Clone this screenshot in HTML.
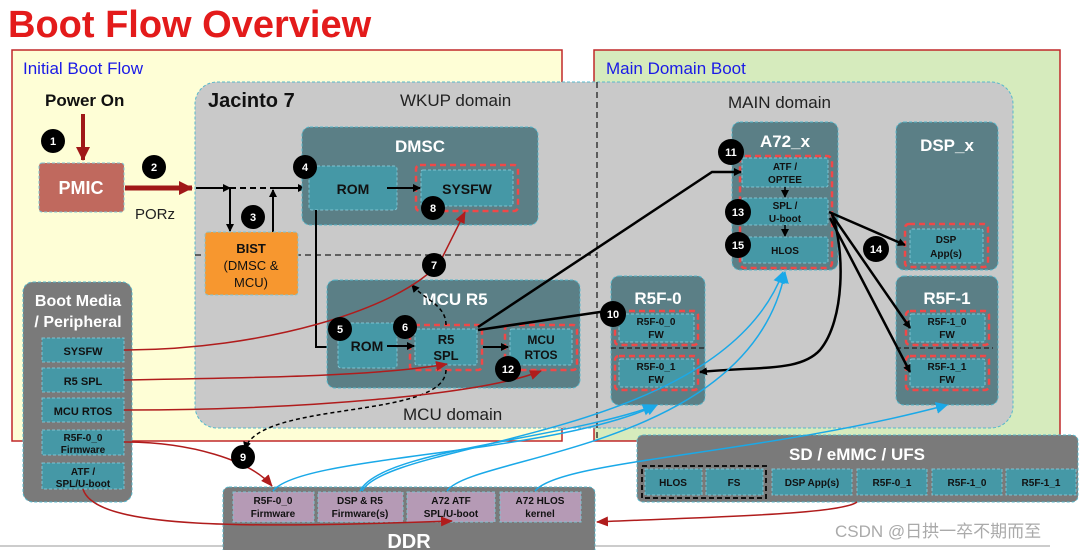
<!DOCTYPE html>
<html><head><meta charset="utf-8"><style>
html,body{margin:0;padding:0;background:#fff;}
svg{display:block;font-family:"Liberation Sans",Arial,sans-serif;}
.b{font-weight:bold;}
</style></head><body>
<svg width="1080" height="550" viewBox="0 0 1080 550" xmlns="http://www.w3.org/2000/svg">
<defs>
<marker id="ak" markerWidth="8" markerHeight="8" refX="7" refY="4" orient="auto" markerUnits="userSpaceOnUse"><path d="M0,0 L8,4 L0,8 z" fill="#000"/></marker>
<marker id="ar" markerWidth="12" markerHeight="10" refX="11" refY="5" orient="auto" markerUnits="userSpaceOnUse"><path d="M0,0 L12,5 L0,10 z" fill="#b01c1c"/></marker>
<marker id="arb" markerWidth="14" markerHeight="14" refX="13" refY="7" orient="auto" markerUnits="userSpaceOnUse"><path d="M0,0 L14,7 L0,14 z" fill="#a01818"/></marker>
<marker id="ab" markerWidth="12" markerHeight="12" refX="11" refY="6" orient="auto" markerUnits="userSpaceOnUse"><path d="M0,0 L12,6 L0,12 z" fill="#1aa9e8"/></marker>
</defs>

<text x="8" y="37" font-size="38" class="b" fill="#e31b1b">Boot Flow Overview</text>

<!-- outer regions -->
<rect x="12" y="50" width="550" height="391" fill="#fefed6" stroke="#c0282a" stroke-width="1.5"/>
<rect x="594" y="50" width="466" height="391" fill="#d6ebbd" stroke="#c0282a" stroke-width="1.5"/>
<text x="23" y="74" font-size="17" fill="#1a1ae6">Initial Boot Flow</text>
<text x="606" y="74" font-size="17" fill="#1a1ae6">Main Domain Boot</text>

<!-- Jacinto -->
<rect x="195" y="82" width="818" height="346" rx="22" fill="#c9c9c9" stroke="#56b8cc" stroke-width="1" stroke-dasharray="3,2"/>
<line x1="597" y1="82" x2="597" y2="442" stroke="#222" stroke-width="1.3" stroke-dasharray="6,4"/>
<line x1="195" y1="255" x2="597" y2="255" stroke="#222" stroke-width="1.3" stroke-dasharray="6,4"/>
<text x="208" y="107" font-size="20" class="b" fill="#111">Jacinto 7</text>
<text x="400" y="106" font-size="17" fill="#222">WKUP domain</text>
<text x="728" y="108" font-size="17" fill="#222">MAIN domain</text>
<text x="403" y="420" font-size="17" fill="#222">MCU domain</text>

<!-- Power on / PMIC -->
<text x="45" y="106" font-size="17" class="b" fill="#111">Power On</text>
<line x1="83" y1="114" x2="83" y2="160" stroke="#a01818" stroke-width="4" marker-end="url(#arb)"/>
<rect x="39" y="163" width="85" height="49" rx="3" fill="#c0695e" stroke="#7fc3d2" stroke-dasharray="3,2"/>
<text x="81" y="194" font-size="18" class="b" fill="#fff" text-anchor="middle">PMIC</text>
<line x1="125" y1="188" x2="192" y2="188" stroke="#a01818" stroke-width="5" marker-end="url(#arb)"/>
<text x="135" y="219" font-size="15" fill="#222">PORz</text>

<!-- PORz path -->
<line x1="196" y1="188" x2="230" y2="188" stroke="#000" stroke-width="2" marker-end="url(#ak)"/>
<line x1="230" y1="188" x2="270" y2="188" stroke="#000" stroke-width="2" stroke-dasharray="6,4"/>
<line x1="270" y1="188" x2="305" y2="188" stroke="#000" stroke-width="2" marker-end="url(#ak)"/>
<line x1="230" y1="188" x2="230" y2="231" stroke="#000" stroke-width="2" marker-end="url(#ak)"/>
<line x1="273" y1="232" x2="273" y2="190" stroke="#000" stroke-width="2" marker-end="url(#ak)"/>

<rect x="205" y="232" width="93" height="63" rx="3" fill="#f7972f" stroke="#7fc3d2" stroke-dasharray="3,2"/>
<text x="251" y="253" font-size="13" class="b" fill="#111" text-anchor="middle">BIST</text>
<text x="251" y="270" font-size="13" fill="#111" text-anchor="middle">(DMSC &amp;</text>
<text x="251" y="287" font-size="13" fill="#111" text-anchor="middle">MCU)</text>

<!-- DMSC -->
<rect x="302" y="127" width="236" height="98" rx="8" fill="#5b7f86" stroke="#56b8cc" stroke-dasharray="3,2"/>
<text x="420" y="152" font-size="17" class="b" fill="#fff" text-anchor="middle">DMSC</text>
<rect x="309" y="166" width="88" height="44" rx="3" fill="#4598a6" stroke="#7fc3d2" stroke-dasharray="3,2"/>
<text x="353" y="194" font-size="14" class="b" fill="#111" text-anchor="middle">ROM</text>
<rect x="416" y="165" width="102" height="46" rx="4" fill="none" stroke="#f04848" stroke-width="2.5" stroke-dasharray="6,4"/>
<rect x="421" y="170" width="92" height="36" rx="2" fill="#4598a6" stroke="#7fc3d2" stroke-dasharray="3,2"/>
<text x="467" y="194" font-size="14" class="b" fill="#111" text-anchor="middle">SYSFW</text>
<line x1="387" y1="188" x2="420" y2="188" stroke="#000" stroke-width="2" marker-end="url(#ak)"/>
<polyline points="316,210 316,347 337,347" fill="none" stroke="#000" stroke-width="2" marker-end="url(#ak)"/>

<!-- MCU R5 -->
<rect x="327" y="280" width="253" height="108" rx="8" fill="#5b7f86" stroke="#56b8cc" stroke-dasharray="3,2"/>
<text x="455" y="305" font-size="17" class="b" fill="#fff" text-anchor="middle">MCU R5</text>
<rect x="338" y="323" width="59" height="45" rx="3" fill="#4598a6" stroke="#7fc3d2" stroke-dasharray="3,2"/>
<text x="367" y="351" font-size="14" class="b" fill="#111" text-anchor="middle">ROM</text>
<rect x="410" y="325" width="72" height="45" rx="4" fill="none" stroke="#f04848" stroke-width="2.5" stroke-dasharray="6,4"/>
<rect x="415" y="329" width="62" height="36" rx="2" fill="#4598a6" stroke="#7fc3d2" stroke-dasharray="3,2"/>
<text x="446" y="344" font-size="13" class="b" fill="#111" text-anchor="middle">R5</text>
<text x="446" y="360" font-size="13" class="b" fill="#111" text-anchor="middle">SPL</text>
<rect x="505" y="325" width="72" height="45" rx="4" fill="none" stroke="#f04848" stroke-width="2.5" stroke-dasharray="6,4"/>
<rect x="510" y="329" width="62" height="36" rx="2" fill="#4598a6" stroke="#7fc3d2" stroke-dasharray="3,2"/>
<text x="541" y="344" font-size="12" class="b" fill="#111" text-anchor="middle">MCU</text>
<text x="541" y="359" font-size="12" class="b" fill="#111" text-anchor="middle">RTOS</text>
<line x1="387" y1="346" x2="414" y2="346" stroke="#000" stroke-width="2" marker-end="url(#ak)"/>
<line x1="483" y1="347" x2="508" y2="347" stroke="#000" stroke-width="2" marker-end="url(#ak)"/>
<path d="M446,325 C446,305 425,300 412,285" fill="none" stroke="#000" stroke-width="1.5" stroke-dasharray="4,3" marker-end="url(#ak)"/>
<path d="M446,370 C445,420 260,400 245,449" fill="none" stroke="#000" stroke-width="1.5" stroke-dasharray="4,3" marker-end="url(#ak)"/>

<!-- main domain boxes -->
<rect x="732" y="122" width="106" height="148" rx="8" fill="#5b7f86" stroke="#56b8cc" stroke-dasharray="3,2"/>
<text x="785" y="147" font-size="17" class="b" fill="#fff" text-anchor="middle">A72_x</text>
<rect x="740" y="156" width="92" height="112" rx="5" fill="none" stroke="#f04848" stroke-width="2.5" stroke-dasharray="6,4"/>
<rect x="742" y="158" width="86" height="29" rx="2" fill="#4598a6" stroke="#7fc3d2" stroke-dasharray="3,2"/>
<text x="785" y="170" font-size="10" class="b" fill="#111" text-anchor="middle">ATF /</text>
<text x="785" y="183" font-size="10" class="b" fill="#111" text-anchor="middle">OPTEE</text>
<rect x="742" y="198" width="86" height="27" rx="2" fill="#4598a6" stroke="#7fc3d2" stroke-dasharray="3,2"/>
<text x="785" y="209" font-size="10" class="b" fill="#111" text-anchor="middle">SPL /</text>
<text x="785" y="222" font-size="10" class="b" fill="#111" text-anchor="middle">U-boot</text>
<rect x="742" y="237" width="86" height="26" rx="2" fill="#4598a6" stroke="#7fc3d2" stroke-dasharray="3,2"/>
<text x="785" y="254" font-size="10" class="b" fill="#111" text-anchor="middle">HLOS</text>
<line x1="785" y1="187" x2="785" y2="197" stroke="#000" stroke-width="1.5" marker-end="url(#ak)"/>
<line x1="785" y1="225" x2="785" y2="236" stroke="#000" stroke-width="1.5" marker-end="url(#ak)"/>

<rect x="896" y="122" width="102" height="148" rx="8" fill="#5b7f86" stroke="#56b8cc" stroke-dasharray="3,2"/>
<text x="947" y="151" font-size="17" class="b" fill="#fff" text-anchor="middle">DSP_x</text>
<rect x="905" y="224" width="83" height="43" rx="4" fill="none" stroke="#f04848" stroke-width="2.5" stroke-dasharray="6,4"/>
<rect x="910" y="229" width="73" height="34" rx="2" fill="#4598a6" stroke="#7fc3d2" stroke-dasharray="3,2"/>
<text x="946" y="243" font-size="10" class="b" fill="#111" text-anchor="middle">DSP</text>
<text x="946" y="257" font-size="10" class="b" fill="#111" text-anchor="middle">App(s)</text>

<rect x="611" y="276" width="94" height="129" rx="8" fill="#5b7f86" stroke="#56b8cc" stroke-dasharray="3,2"/>
<text x="658" y="304" font-size="17" class="b" fill="#fff" text-anchor="middle">R5F-0</text>
<rect x="615" y="311" width="83" height="34" rx="4" fill="none" stroke="#f04848" stroke-width="2.5" stroke-dasharray="6,4"/>
<rect x="619" y="314" width="75" height="28" rx="2" fill="#4598a6" stroke="#7fc3d2" stroke-dasharray="3,2"/>
<text x="656" y="325" font-size="10" class="b" fill="#111" text-anchor="middle">R5F-0_0</text>
<text x="656" y="338" font-size="10" class="b" fill="#111" text-anchor="middle">FW</text>
<line x1="611" y1="348" x2="705" y2="348" stroke="#222" stroke-width="1.2" stroke-dasharray="5,3"/>
<rect x="615" y="356" width="83" height="34" rx="4" fill="none" stroke="#f04848" stroke-width="2.5" stroke-dasharray="6,4"/>
<rect x="619" y="359" width="75" height="28" rx="2" fill="#4598a6" stroke="#7fc3d2" stroke-dasharray="3,2"/>
<text x="656" y="370" font-size="10" class="b" fill="#111" text-anchor="middle">R5F-0_1</text>
<text x="656" y="383" font-size="10" class="b" fill="#111" text-anchor="middle">FW</text>

<rect x="896" y="276" width="102" height="129" rx="8" fill="#5b7f86" stroke="#56b8cc" stroke-dasharray="3,2"/>
<text x="947" y="304" font-size="17" class="b" fill="#fff" text-anchor="middle">R5F-1</text>
<rect x="906" y="311" width="83" height="34" rx="4" fill="none" stroke="#f04848" stroke-width="2.5" stroke-dasharray="6,4"/>
<rect x="910" y="314" width="75" height="28" rx="2" fill="#4598a6" stroke="#7fc3d2" stroke-dasharray="3,2"/>
<text x="947" y="325" font-size="10" class="b" fill="#111" text-anchor="middle">R5F-1_0</text>
<text x="947" y="338" font-size="10" class="b" fill="#111" text-anchor="middle">FW</text>
<line x1="896" y1="348" x2="993" y2="348" stroke="#222" stroke-width="1.2" stroke-dasharray="5,3"/>
<rect x="906" y="356" width="83" height="34" rx="4" fill="none" stroke="#f04848" stroke-width="2.5" stroke-dasharray="6,4"/>
<rect x="910" y="359" width="75" height="28" rx="2" fill="#4598a6" stroke="#7fc3d2" stroke-dasharray="3,2"/>
<text x="947" y="370" font-size="10" class="b" fill="#111" text-anchor="middle">R5F-1_1</text>
<text x="947" y="383" font-size="10" class="b" fill="#111" text-anchor="middle">FW</text>

<!-- black flows -->
<polyline points="478,327 712,172 741,172" fill="none" stroke="#000" stroke-width="2.5" marker-end="url(#ak)"/>
<path d="M478,330 L600,312 L612,312" fill="none" stroke="#000" stroke-width="2.5" marker-end="url(#ak)"/>
<line x1="829" y1="212" x2="905" y2="245" stroke="#000" stroke-width="2.5" marker-end="url(#ak)"/>
<line x1="832" y1="215" x2="910" y2="328" stroke="#000" stroke-width="2.5" marker-end="url(#ak)"/>
<line x1="830" y1="218" x2="910" y2="372" stroke="#000" stroke-width="2.5" marker-end="url(#ak)"/>
<path d="M832,214 C845,250 845,320 820,350 C800,372 760,366 700,372" fill="none" stroke="#000" stroke-width="2.5" marker-end="url(#ak)"/>

<!-- Boot media -->
<rect x="23" y="282" width="109" height="220" rx="10" fill="#7a7a7a" stroke="#56b8cc" stroke-dasharray="3,2"/>
<text x="78" y="306" font-size="16" class="b" fill="#fff" text-anchor="middle">Boot Media</text>
<text x="78" y="327" font-size="16" class="b" fill="#fff" text-anchor="middle">/ Peripheral</text>
<rect x="42" y="338" width="82" height="24" fill="#4598a6" stroke="#7fc3d2" stroke-dasharray="3,2"/>
<text x="83" y="355" font-size="11" class="b" fill="#111" text-anchor="middle">SYSFW</text>
<rect x="42" y="368" width="82" height="24" fill="#4598a6" stroke="#7fc3d2" stroke-dasharray="3,2"/>
<text x="83" y="385" font-size="11" class="b" fill="#111" text-anchor="middle">R5 SPL</text>
<rect x="42" y="398" width="82" height="24" fill="#4598a6" stroke="#7fc3d2" stroke-dasharray="3,2"/>
<text x="83" y="415" font-size="11" class="b" fill="#111" text-anchor="middle">MCU RTOS</text>
<rect x="42" y="430" width="82" height="25" fill="#4598a6" stroke="#7fc3d2" stroke-dasharray="3,2"/>
<text x="83" y="441" font-size="10" class="b" fill="#111" text-anchor="middle">R5F-0_0</text>
<text x="83" y="453" font-size="10" class="b" fill="#111" text-anchor="middle">Firmware</text>
<rect x="42" y="463" width="82" height="26" fill="#4598a6" stroke="#7fc3d2" stroke-dasharray="3,2"/>
<text x="83" y="475" font-size="10" class="b" fill="#111" text-anchor="middle">ATF /</text>
<text x="83" y="487" font-size="10" class="b" fill="#111" text-anchor="middle">SPL/U-boot</text>

<!-- DDR -->
<rect x="223" y="487" width="372" height="75" rx="6" fill="#7a7a7a" stroke="#56b8cc" stroke-dasharray="3,2"/>
<rect x="233" y="492" width="81" height="30" fill="#b59ab5" stroke="#7fc3d2" stroke-dasharray="3,2"/>
<text x="273" y="504" font-size="10" class="b" fill="#111" text-anchor="middle">R5F-0_0</text>
<text x="273" y="517" font-size="10" class="b" fill="#111" text-anchor="middle">Firmware</text>
<rect x="318" y="492" width="85" height="30" fill="#b59ab5" stroke="#7fc3d2" stroke-dasharray="3,2"/>
<text x="360" y="504" font-size="10" class="b" fill="#111" text-anchor="middle">DSP &amp; R5</text>
<text x="360" y="517" font-size="10" class="b" fill="#111" text-anchor="middle">Firmware(s)</text>
<rect x="407" y="492" width="88" height="30" fill="#b59ab5" stroke="#7fc3d2" stroke-dasharray="3,2"/>
<text x="451" y="504" font-size="10" class="b" fill="#111" text-anchor="middle">A72 ATF</text>
<text x="451" y="517" font-size="10" class="b" fill="#111" text-anchor="middle">SPL/U-boot</text>
<rect x="500" y="492" width="81" height="30" fill="#b59ab5" stroke="#7fc3d2" stroke-dasharray="3,2"/>
<text x="540" y="504" font-size="10" class="b" fill="#111" text-anchor="middle">A72 HLOS</text>
<text x="540" y="517" font-size="10" class="b" fill="#111" text-anchor="middle">kernel</text>
<text x="409" y="548" font-size="20" class="b" fill="#fff" text-anchor="middle">DDR</text>

<!-- SD -->
<rect x="637" y="435" width="441" height="67" rx="6" fill="#7a7a7a" stroke="#56b8cc" stroke-dasharray="3,2"/>
<text x="857" y="460" font-size="17" class="b" fill="#fff" text-anchor="middle">SD / eMMC / UFS</text>
<rect x="642" y="466" width="124" height="32" fill="none" stroke="#111" stroke-width="2" stroke-dasharray="5,3"/>
<rect x="645" y="469" width="57" height="26" fill="#4598a6" stroke="#7fc3d2" stroke-dasharray="3,2"/>
<text x="673" y="486" font-size="10" class="b" fill="#111" text-anchor="middle">HLOS</text>
<rect x="706" y="469" width="57" height="26" fill="#4598a6" stroke="#7fc3d2" stroke-dasharray="3,2"/>
<text x="734" y="486" font-size="10" class="b" fill="#111" text-anchor="middle">FS</text>
<rect x="772" y="469" width="80" height="26" fill="#4598a6" stroke="#7fc3d2" stroke-dasharray="3,2"/>
<text x="812" y="486" font-size="10" class="b" fill="#111" text-anchor="middle">DSP App(s)</text>
<rect x="857" y="469" width="70" height="26" fill="#4598a6" stroke="#7fc3d2" stroke-dasharray="3,2"/>
<text x="892" y="486" font-size="10" class="b" fill="#111" text-anchor="middle">R5F-0_1</text>
<rect x="932" y="469" width="70" height="26" fill="#4598a6" stroke="#7fc3d2" stroke-dasharray="3,2"/>
<text x="967" y="486" font-size="10" class="b" fill="#111" text-anchor="middle">R5F-1_0</text>
<rect x="1006" y="469" width="70" height="26" fill="#4598a6" stroke="#7fc3d2" stroke-dasharray="3,2"/>
<text x="1041" y="486" font-size="10" class="b" fill="#111" text-anchor="middle">R5F-1_1</text>

<!-- red flows -->
<g fill="none" stroke="#b01c1c" stroke-width="1.5">
<path d="M124,350 C260,350 400,310 440,262 L465,212" marker-end="url(#ar)"/>
<path d="M124,380 C250,378 380,376 447,364" marker-end="url(#ar)"/>
<path d="M124,410 C300,410 480,395 541,371" marker-end="url(#ar)"/>
<path d="M124,442 C190,442 250,460 272,486" marker-end="url(#ar)"/>
<path d="M83,489 C95,530 250,528 452,521" marker-end="url(#ar)"/>
<path d="M857,502 C840,515 700,517 597,522" marker-end="url(#ar)"/>
</g>

<!-- blue flows -->
<g fill="none" stroke="#1aa9e8" stroke-width="1.5">
<path d="M273,491 C300,455 550,455 657,405" marker-end="url(#ab)"/>
<path d="M360,491 C380,450 560,440 654,406" marker-end="url(#ab)"/>
<path d="M362,491 C390,440 720,440 783,272" marker-end="url(#ab)"/>
<path d="M447,491 C470,455 750,450 785,272" marker-end="url(#ab)"/>
<path d="M535,491 C560,460 760,455 947,405" marker-end="url(#ab)"/>
</g>

<!-- step circles -->
<g font-size="11" class="b" fill="#fff" text-anchor="middle">
<circle cx="53" cy="141" r="12" fill="#000"/><text x="53" y="145" fill="#fff">1</text>
<circle cx="154" cy="167" r="12" fill="#000"/><text x="154" y="171" fill="#fff">2</text>
<circle cx="253" cy="217" r="12" fill="#000"/><text x="253" y="221" fill="#fff">3</text>
<circle cx="305" cy="167" r="12" fill="#000"/><text x="305" y="171" fill="#fff">4</text>
<circle cx="340" cy="329" r="12" fill="#000"/><text x="340" y="333" fill="#fff">5</text>
<circle cx="405" cy="327" r="12" fill="#000"/><text x="405" y="331" fill="#fff">6</text>
<circle cx="434" cy="265" r="12" fill="#000"/><text x="434" y="269" fill="#fff">7</text>
<circle cx="433" cy="208" r="12" fill="#000"/><text x="433" y="212" fill="#fff">8</text>
<circle cx="243" cy="457" r="12" fill="#000"/><text x="243" y="461" fill="#fff">9</text>
<circle cx="613" cy="314" r="13" fill="#000"/><text x="613" y="318" fill="#fff">10</text>
<circle cx="731" cy="152" r="13" fill="#000"/><text x="731" y="156" fill="#fff">11</text>
<circle cx="508" cy="369" r="13" fill="#000"/><text x="508" y="373" fill="#fff">12</text>
<circle cx="738" cy="212" r="13" fill="#000"/><text x="738" y="216" fill="#fff">13</text>
<circle cx="876" cy="249" r="13" fill="#000"/><text x="876" y="253" fill="#fff">14</text>
<circle cx="738" cy="245" r="13" fill="#000"/><text x="738" y="249" fill="#fff">15</text>
</g>

<line x1="0" y1="546" x2="223" y2="546" stroke="#999" stroke-width="1"/>
<line x1="595" y1="546" x2="1050" y2="546" stroke="#999" stroke-width="1"/>
<text x="835" y="537" font-size="17" fill="#aaa" font-family="'Liberation Sans','Noto Sans CJK SC',sans-serif">CSDN @日拱一卒不期而至</text>
</svg>
</body></html>
